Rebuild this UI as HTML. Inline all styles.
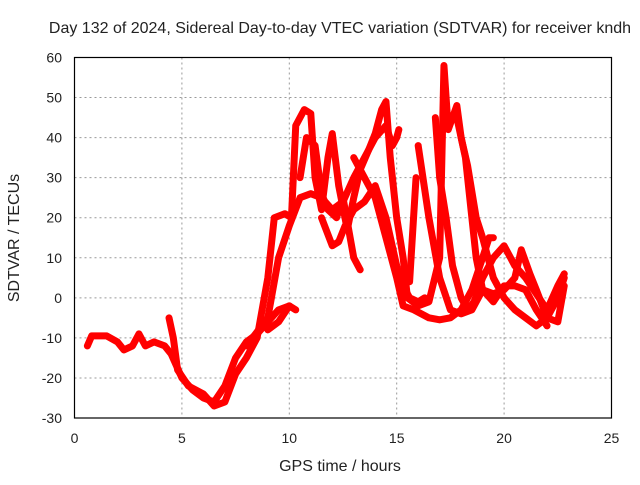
<!DOCTYPE html>
<html><head><meta charset="utf-8"><style>
body{margin:0;background:#fff;}
svg text{font-family:"Liberation Sans",sans-serif;fill:#222;}
</style></head><body>
<svg id="chart" width="640" height="480" viewBox="0 0 640 480" xmlns="http://www.w3.org/2000/svg">
<rect width="640" height="480" fill="#fff"/>
<text x="340" y="33" font-size="16" text-anchor="middle">Day 132 of 2024, Sidereal Day-to-day VTEC variation (SDTVAR) for receiver kndh</text>
<g id="grid"></g>
<g id="series"></g>
<rect x="74.5" y="57.5" width="537" height="360.5" fill="none" stroke="#000" stroke-width="1.2"/>
<g id="ticks"></g>
<text x="340" y="471" font-size="16" text-anchor="middle">GPS time / hours</text>
<text transform="translate(19,238) rotate(-90)" font-size="16" text-anchor="middle">SDTVAR / TECUs</text>
</svg>
<script>
const xTicks=[0,5,10,15,20,25];
const yTicks=[-30,-20,-10,0,10,20,30,40,50,60];
const trackA=[[0.6,-12],[0.8,-9.5],[1.5,-9.5],[2,-11],[2.3,-13],[2.7,-12],[3,-9],[3.3,-12],[3.7,-11],[4.2,-12],[4.5,-14],[5,-20],[5.5,-23],[6,-25],[6.5,-26],[7,-22],[7.5,-15],[8,-11],[8.5,-9],[9,-6],[9.5,-3],[10,-2]];
const trackB=[[4.4,-5],[4.6,-10],[4.8,-18],[5.3,-22],[6,-24],[6.5,-27],[7,-26],[7.5,-19],[8,-15],[8.5,-10],[9,5],[9.3,20],[9.8,21],[10.1,20],[10.3,43],[10.7,47],[11,46],[11.2,30],[11.5,22],[11.8,35],[12,41],[12.3,28],[12.7,17],[13,25],[13.3,32],[13.7,37],[14,41],[14.3,47],[14.5,49],[14.7,35],[15,20],[15.3,10],[15.5,0],[16,-2],[16.5,-1],[17,10],[17.2,58],[17.4,42],[17.8,48],[18,40],[18.3,33],[18.7,20],[19,15],[19.5,5],[20,0],[20.5,-3],[21,-5],[21.5,-7],[22,-5],[22.5,0],[22.8,5]];
const trackC=[[8,-12],[9,-5],[9.5,10],[10,18],[10.5,25],[11,26],[11.5,25],[12,22],[12.5,24],[13,30],[13.5,35],[14,40],[14.5,43],[14.8,38],[15,40],[15.1,42]];
const trackD=[[9,-8],[9.5,-6],[10,-2],[10.3,-3]];
const trackE=[[10.5,30],[10.8,40],[11.2,38],[11.5,26],[11.8,22],[12.2,20],[12.5,25],[13,10],[13.3,7]];
const trackF=[[13,35],[13.5,30],[14,25],[14.5,15],[15,5],[15.3,-2],[15.8,-3],[16.5,-5],[17,-5.5],[17.5,-5],[18,-3],[18.5,2],[19,10],[19.3,15],[19.5,15]];
const trackG=[[11.5,20],[12,13],[12.3,14],[12.6,18],[13,22],[13.5,24],[14,28],[14.5,20],[15,8],[15.3,3],[15.6,0],[16,-1],[16.3,0]];
const trackH=[[16.8,45],[17,30],[17.3,20],[17.6,8],[18,0],[18.3,-3],[18.6,-1],[19,5],[19.5,10],[20,13],[20.5,8],[21,5],[21.5,1],[22,-3],[22.5,3],[22.8,6]];
const trackI=[[16,38],[16.5,20],[17,5],[17.5,-3],[18,-4],[18.5,-3],[19,2],[19.5,1],[20,2],[20.5,5],[20.8,12],[21.2,6],[21.5,2],[22,-5],[22.5,-6],[22.8,3]];
const trackJ=[[17.8,45],[18.2,35],[18.5,20],[18.7,10],[19,2],[19.5,-1],[20,3],[20.5,3],[21,2],[21.5,-3],[22,-7]];
const trackK=[[15.6,4],[15.9,30]];
const tracks=[trackA,trackB,trackC,trackD,trackE,trackF,trackG,trackH,trackI,trackJ,trackK];

const NS="http://www.w3.org/2000/svg";
const X0=74.5,X1=611.5,Y0=418,Y1=57.5;
function sx(h){return X0+(h-0)/(25-0)*(X1-X0);}
function sy(v){return Y0-(v+30)/(60+30)*(Y0-Y1);}
const grid=document.getElementById('grid'),ticks=document.getElementById('ticks'),series=document.getElementById('series');
function mk(tag,attrs,parent){const e=document.createElementNS(NS,tag);for(const k in attrs)e.setAttribute(k,attrs[k]);parent.appendChild(e);return e;}
xTicks.forEach(t=>{
  const x=sx(t);
  if(t>0&&t<25){const g=mk('line',{x1:x,x2:x,y1:Y1,y2:Y0,stroke:'#999','stroke-dasharray':'2,3','stroke-width':1},grid);
  
  }
  const l=mk('text',{x:x,y:443,'font-size':14,'text-anchor':'middle'},ticks);l.textContent=t;
  
  
});
yTicks.forEach(t=>{
  const y=sy(t);
  if(t>-30&&t<60){const g=mk('line',{x1:X0,x2:X1,y1:y,y2:y,stroke:'#999','stroke-dasharray':'2,3','stroke-width':1},grid);
  
  }
  const l=mk('text',{x:62,y:y+5,'font-size':14,'text-anchor':'end'},ticks);l.textContent=t;
  
  
});
tracks.forEach((tr,i)=>{
  const p=mk('polyline',{points:tr.map(d=>sx(d[0])+','+sy(d[1])).join(' '),fill:'none',stroke:'#ff0000','stroke-width':7,'stroke-linejoin':'round','stroke-linecap':'round'},series);
  
  
});
</script>
</body></html>
